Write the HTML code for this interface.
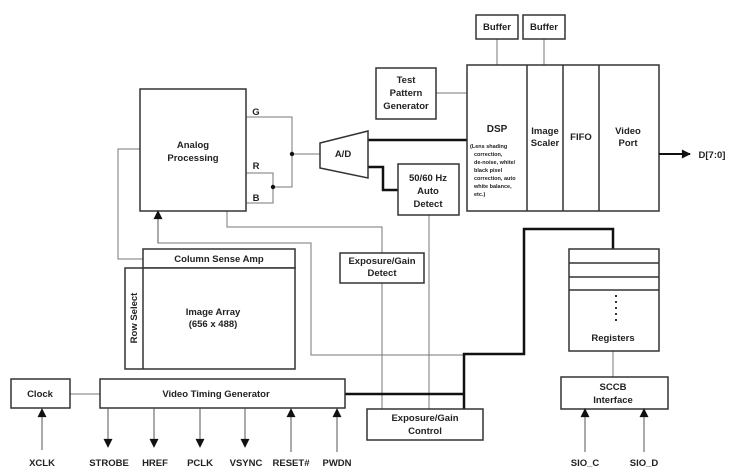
<!DOCTYPE html>
<html><head><style>
html,body{margin:0;padding:0;background:#fff;}
svg{display:block;}
text{font-family:"Liberation Sans",Arial,sans-serif;font-weight:bold;fill:#222;text-anchor:middle;}
</style></head><body>
<svg width="736" height="472" viewBox="0 0 736 472" xmlns="http://www.w3.org/2000/svg">
<defs>
<marker id="a" viewBox="0 0 10 10" refX="9" refY="5" markerWidth="12" markerHeight="9" orient="auto" markerUnits="userSpaceOnUse"><path d="M0,0 L10,5 L0,10z" fill="#111"/></marker>
</defs>
<g fill="none" stroke="#777" stroke-width="1">
<path d="M497,39 V65"/><path d="M544,39 V65"/>
<path d="M436,93 H467"/>
<path d="M246,117 H292 V187 H273"/>
<path d="M246,173 H273 V203 H246"/>
<path d="M292,154 H320"/>
<path d="M227,211 V227 H382 V253"/>
<path d="M158,222 V243 H311 V355 H464"/>
<path d="M140,149 H118 V259 H143"/>
<path d="M382,283 V409"/>
<path d="M429,215 V409"/>
<path d="M70,394 H100"/>
<path d="M613,351 V377"/>
</g>
<g fill="#111" stroke="none">
<circle cx="292" cy="154" r="2.2"/><circle cx="273" cy="187" r="2.2"/>
</g>
<g fill="none" stroke="#111" stroke-width="2.5">
<path d="M368,140 H467"/>
<path d="M366,167 H383 V190 H398"/>
<path d="M613,249 V229 H524 V354 H464 V409"/>
<path d="M345,394 H464"/>
</g>
<g fill="#fff" stroke="#333" stroke-width="1.5">
<rect x="476" y="15" width="42" height="24"/>
<rect x="523" y="15" width="42" height="24"/>
<rect x="467" y="65" width="192" height="146"/>
<rect x="376" y="68" width="60" height="51"/>
<rect x="140" y="89" width="106" height="122"/>
<path d="M320,143 L368,131 L368,178 L320,168 Z"/>
<rect x="398" y="164" width="61" height="51"/>
<rect x="143" y="249" width="152" height="19"/>
<rect x="125" y="268" width="170" height="101"/>
<rect x="340" y="253" width="84" height="30"/>
<rect x="11" y="379" width="59" height="29"/>
<rect x="100" y="379" width="245" height="29"/>
<rect x="367" y="409" width="116" height="31"/>
<rect x="569" y="249" width="90" height="102"/>
<rect x="561" y="377" width="107" height="32"/>
</g>
<g stroke="#333" stroke-width="1.5" fill="none">
<path d="M527,65 V211 M563,65 V211 M599,65 V211"/>
<path d="M143,268 V369"/>
<path d="M569,263 H659 M569,277 H659 M569,290 H659"/>
</g>
<path d="M616,295 V324" stroke="#333" stroke-width="2" stroke-dasharray="2,4" fill="none"/>
<g stroke="#555" stroke-width="1" fill="none" marker-end="url(#a)">
<path d="M659,154 H690" stroke="#111" stroke-width="2"/>
<path d="M158,243 V211"/>
<path d="M42,450 V409"/>
<path d="M108,408 V447"/><path d="M154,408 V447"/><path d="M200,408 V447"/><path d="M245,408 V447"/>
<path d="M291,452 V409"/><path d="M337,452 V409"/>
<path d="M585,452 V409"/><path d="M644,452 V409"/>
</g>
<g font-size="9.5">
<text x="497" y="30">Buffer</text><text x="544" y="30">Buffer</text>
<text x="406" y="83">Test</text><text x="406" y="96">Pattern</text><text x="406" y="109">Generator</text>
<text x="193" y="148">Analog</text><text x="193" y="161">Processing</text>
<text x="256" y="115">G</text><text x="256" y="169">R</text><text x="256" y="201">B</text>
<text x="343" y="157">A/D</text>
<text x="428" y="181">50/60 Hz</text><text x="428" y="194">Auto</text><text x="428" y="207">Detect</text>
<text x="497" y="132" font-size="10">DSP</text>
<text x="545" y="134">Image</text><text x="545" y="146">Scaler</text>
<text x="581" y="140">FIFO</text>
<text x="628" y="134">Video</text><text x="628" y="146">Port</text>
<text x="712" y="158">D[7:0]</text>
<text x="219" y="262">Column Sense Amp</text>
<text x="213" y="315">Image Array</text><text x="213" y="327">(656 x 488)</text>
<text x="382" y="264">Exposure/Gain</text><text x="382" y="276">Detect</text>
<text x="40" y="397">Clock</text>
<text x="216" y="397">Video Timing Generator</text>
<text x="425" y="421">Exposure/Gain</text><text x="425" y="434">Control</text>
<text x="613" y="341">Registers</text>
<text x="613" y="390">SCCB</text><text x="613" y="403">Interface</text>
<text x="42" y="466">XCLK</text><text x="109" y="466">STROBE</text><text x="155" y="466">HREF</text>
<text x="200" y="466">PCLK</text><text x="246" y="466">VSYNC</text><text x="291" y="466">RESET#</text><text x="337" y="466">PWDN</text>
<text x="585" y="466">SIO_C</text><text x="644" y="466">SIO_D</text>
<text x="137" y="318" transform="rotate(-90 137 318)">Row Select</text>
</g>
<g font-size="5.5">
<text x="470" y="148" style="text-anchor:start">(Lens shading</text>
<text x="474" y="156" style="text-anchor:start">correction,</text>
<text x="474" y="164" style="text-anchor:start">de-noise, white/</text>
<text x="474" y="172" style="text-anchor:start">black pixel</text>
<text x="474" y="180" style="text-anchor:start">correction, auto</text>
<text x="474" y="188" style="text-anchor:start">white balance,</text>
<text x="474" y="196" style="text-anchor:start">etc.)</text>
</g>
</svg>
</body></html>
